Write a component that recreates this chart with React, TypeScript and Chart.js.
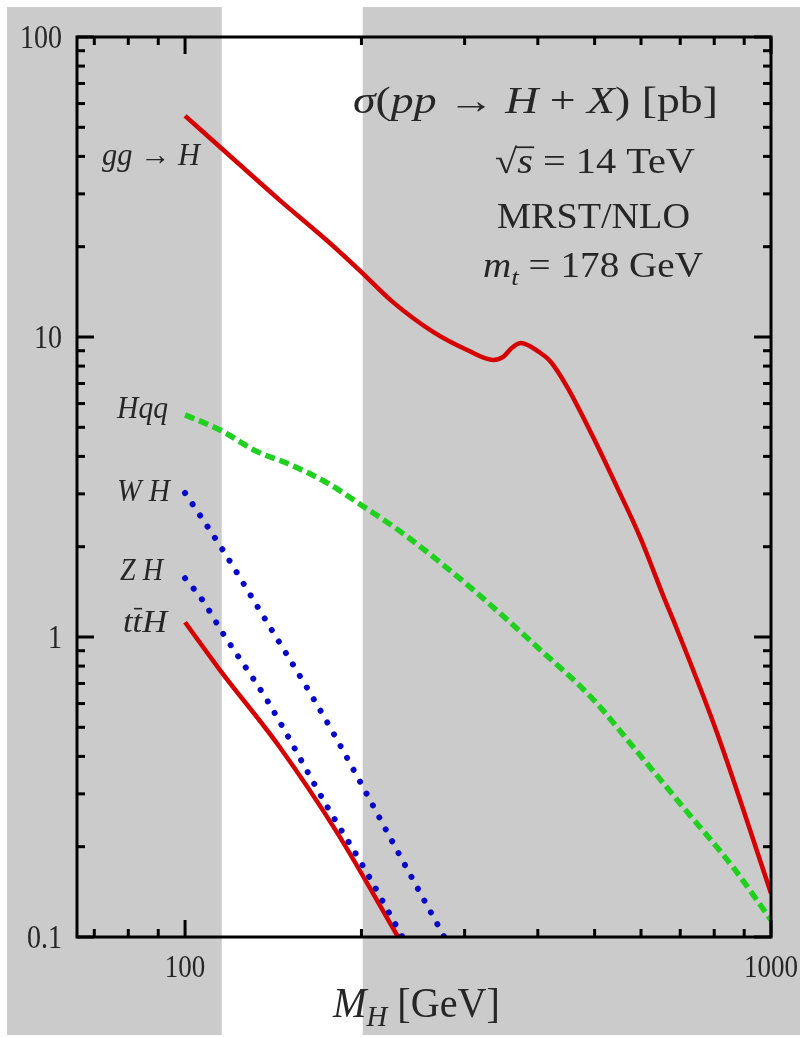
import React, { useEffect, useRef } from "react";
import { Chart, registerables } from "chart.js";

Chart.register(...registerables);

// ---------------- data (M_H in GeV, sigma in pb) ----------------
const GGH_MASS = [100, 114.7, 145, 177, 201, 224, 265, 303, 336, 349, 361, 374, 403, 420, 449, 497, 546, 598, 659, 681, 809, 1000];
const GGH_XSEC = [54.6, 43.0, 28.6, 20.5, 16.3, 13.3, 10.4, 9.05, 8.38, 8.58, 9.19, 9.55, 8.88, 8.3, 6.81, 4.64, 3.16, 2.15, 1.33, 1.14, 0.479, 0.14];

const HQQ_MASS = [100, 114.7, 133, 149, 175, 200, 235, 306, 399, 497, 582, 708, 861, 1000];
const HQQ_XSEC = [5.5, 4.9, 4.14, 3.8, 3.26, 2.75, 2.22, 1.47, 0.926, 0.62, 0.43, 0.271, 0.171, 0.114];

const WH_MASS = [100, 116, 133, 165, 179, 199, 235, 277];
const WH_XSEC = [3.02, 1.95, 1.26, 0.631, 0.479, 0.329, 0.18, 0.1];

const ZH_MASS = [100, 107, 116, 138, 175, 200, 235];
const ZH_XSEC = [1.57, 1.33, 1.03, 0.616, 0.271, 0.176, 0.1];

const TTH_MASS = [100, 114.7, 145, 182, 231];
const TTH_XSEC = [1.12, 0.776, 0.43, 0.222, 0.1];

// ---------------- axes ----------------
const X_MIN = 65.4;
const X_MAX = 1000;
const Y_MIN = 0.1;
const Y_MAX = 100;
const X_MAJOR_TICKS = [100, 1000];
const X_MINOR_TICKS = [70, 80, 90, 200, 300, 400, 500, 600, 700, 800, 900];
const X_TICK_LABELS = ["100", "1000"];
const Y_MAJOR_TICKS = [0.1, 1, 10, 100];
const Y_TICK_LABELS = ["0.1", "1", "10", "100"];
const Y_MINOR_MULT = [2, 3, 4, 5, 6, 7, 8, 9];

// shaded-out band edges (white region), in GeV
const BAND = [115.5, 201];

// ---------------- text ----------------
type Run = { t: string; it?: boolean; sub?: boolean; bar?: boolean };

const TITLE_RUNS: Run[] = [
  { t: "σ", it: true }, { t: "(" }, { t: "pp", it: true }, { t: " → " },
  { t: "H", it: true }, { t: " + " }, { t: "X", it: true }, { t: ")" }, { t: " [pb]" },
];
const SQRTS_RUNS: Run[] = [{ t: "√" }, { t: "s", it: true, bar: true }, { t: " = 14 TeV" }];
const PDF_RUNS: Run[] = [{ t: "MRST/NLO" }];
const MTOP_RUNS: Run[] = [{ t: "m", it: true }, { t: "t", it: true, sub: true }, { t: " = 178 GeV" }];
const AXIS_TITLE_RUNS: Run[] = [{ t: "M", it: true }, { t: "H", it: true, sub: true }, { t: " [GeV]" }];
const LABEL_GGH: Run[] = [{ t: "gg", it: true }, { t: " → " }, { t: "H", it: true }];
const LABEL_HQQ: Run[] = [{ t: "Hqq", it: true }];
const LABEL_WH: Run[] = [{ t: "W H", it: true }];
const LABEL_ZH: Run[] = [{ t: "Z H", it: true }];
const LABEL_TTH: Run[] = [{ t: "t", it: true }, { t: "t", it: true, bar: true }, { t: "H", it: true }];

const SERIF = '"Liberation Serif", "Times New Roman", serif';
const TEXT_COLOR = "#262626";
const VSTRETCH = 1.2;

function fontFor(r: Run, size: number) {
  const s = r.sub ? Math.round(size * 0.7) : size;
  return `${r.it ? "italic " : ""}${s}px ${SERIF}`;
}

function drawRuns(ctx: CanvasRenderingContext2D, runs: Run[], size: number, x0: number, x1: number, baseline: number) {
  ctx.save();
  let W = 0;
  const ws = runs.map((r) => {
    ctx.font = fontFor(r, size);
    const w = ctx.measureText(r.t).width;
    W += w;
    return w;
  });
  const sx = (x1 - x0) / W;
  ctx.translate(x0, baseline);
  ctx.scale(sx, VSTRETCH);
  ctx.fillStyle = TEXT_COLOR;
  ctx.strokeStyle = TEXT_COLOR;
  ctx.textBaseline = "alphabetic";
  ctx.textAlign = "left";
  let cx = 0;
  runs.forEach((r, i) => {
    ctx.font = fontFor(r, size);
    ctx.fillText(r.t, cx, r.sub ? size * 0.22 : 0);
    if (r.bar) {
      ctx.lineWidth = size * 0.05;
      ctx.beginPath();
      const yb = r.t === "s" ? -size * 0.74 : -size * 0.72;
      ctx.moveTo(cx + (r.t === "s" ? -1 : ws[i] * 0.15), yb);
      ctx.lineTo(cx + ws[i] + (r.t === "s" ? 1 : 0), yb);
      ctx.stroke();
    }
    cx += ws[i];
  });
  ctx.restore();
}

function drawLabel(ctx: CanvasRenderingContext2D, text: string, size: number, x: number, baseline: number, align: CanvasTextAlign) {
  ctx.save();
  ctx.translate(x, baseline);
  ctx.scale(1, VSTRETCH);
  ctx.font = `${size}px ${SERIF}`;
  ctx.fillStyle = TEXT_COLOR;
  ctx.textAlign = align;
  ctx.textBaseline = "alphabetic";
  ctx.fillText(text, 0, 0);
  ctx.restore();
}

const decorPlugin = {
  id: "decor",
  beforeDraw(chart: any) {
    const ctx: CanvasRenderingContext2D = chart.ctx;
    const W = chart.width;
    const H = chart.height;
    const xs = chart.scales.x;
    ctx.save();
    ctx.fillStyle = "#ffffff";
    ctx.fillRect(0, 0, W, H);
    ctx.fillStyle = "#cbcbcb";
    ctx.fillRect(7, 7, W - 7, H - 9);
    const b0 = xs.getPixelForValue(BAND[0]);
    const b1 = xs.getPixelForValue(BAND[1]);
    ctx.fillStyle = "#ffffff";
    ctx.fillRect(b0, 0, b1 - b0, H);
    ctx.restore();
  },
  afterDraw(chart: any) {
    const ctx: CanvasRenderingContext2D = chart.ctx;
    const { left, right, top, bottom } = chart.chartArea;
    const xs = chart.scales.x;
    const ys = chart.scales.y;
    ctx.save();
    ctx.strokeStyle = "#000000";
    ctx.lineWidth = 3;
    ctx.lineCap = "butt";
    const tick = (x1: number, y1: number, x2: number, y2: number) => {
      ctx.beginPath();
      ctx.moveTo(x1, y1);
      ctx.lineTo(x2, y2);
      ctx.stroke();
    };
    const MAJ = 17;
    const MIN = 8;
    X_MAJOR_TICKS.forEach((v) => {
      const px = xs.getPixelForValue(v);
      tick(px, bottom, px, bottom - MAJ);
      tick(px, top, px, top + MAJ);
    });
    X_MINOR_TICKS.forEach((v) => {
      const px = xs.getPixelForValue(v);
      tick(px, bottom, px, bottom - MIN);
      tick(px, top, px, top + MIN);
    });
    Y_MAJOR_TICKS.forEach((v) => {
      const py = ys.getPixelForValue(v);
      tick(left, py, left + MAJ, py);
      tick(right, py, right - MAJ, py);
    });
    Y_MAJOR_TICKS.slice(0, -1).forEach((dec) => {
      Y_MINOR_MULT.forEach((m) => {
        const py = ys.getPixelForValue(dec * m);
        tick(left, py, left + MIN, py);
        tick(right, py, right - MIN, py);
      });
    });
    ctx.strokeRect(left, top, right - left, bottom - top);
    ctx.restore();

    Y_MAJOR_TICKS.forEach((v, i) => {
      drawLabel(ctx, Y_TICK_LABELS[i], 28, left - 15, ys.getPixelForValue(v) + 11, "right");
    });
    X_MAJOR_TICKS.forEach((v, i) => {
      drawLabel(ctx, X_TICK_LABELS[i], 27, xs.getPixelForValue(v), bottom + 40, "center");
    });

    drawRuns(ctx, TITLE_RUNS, 31, 353, 718, 113);
    drawRuns(ctx, SQRTS_RUNS, 29, 495, 695, 173);
    drawRuns(ctx, PDF_RUNS, 29, 497, 690, 228);
    drawRuns(ctx, MTOP_RUNS, 29, 483, 703, 277);
    drawRuns(ctx, AXIS_TITLE_RUNS, 35, 333, 500, 1017);
    drawRuns(ctx, LABEL_GGH, 26, 102, 200, 165);
    drawRuns(ctx, LABEL_HQQ, 27, 117, 168, 418);
    drawRuns(ctx, LABEL_WH, 27, 117, 170, 501);
    drawRuns(ctx, LABEL_ZH, 27, 120, 163, 580);
    drawRuns(ctx, LABEL_TTH, 27, 123, 167, 632);
  },
};

const pts = (xs: number[], ys: number[]) => xs.map((x, i) => ({ x, y: ys[i] }));

export default function App() {
  const ref = useRef<HTMLCanvasElement | null>(null);
  useEffect(() => {
    if (!ref.current) return;
    const RED = "#d60000";
    const GREEN = "#1fd01f";
    const BLUE = "#0808c8";
    const common = { pointRadius: 0, fill: false, cubicInterpolationMode: "monotone" as const };
    const chart = new Chart(ref.current, {
      type: "line",
      data: {
        datasets: [
          { ...common, label: "gg → H", data: pts(GGH_MASS, GGH_XSEC), borderColor: RED, borderWidth: 4.5 },
          { ...common, label: "Hqq", data: pts(HQQ_MASS, HQQ_XSEC), borderColor: GREEN, borderWidth: 5.5, borderDash: [10, 5] },
          { ...common, label: "WH", data: pts(WH_MASS, WH_XSEC), borderColor: BLUE, borderWidth: 6, borderDash: [0.01, 13.5], borderCapStyle: "round" },
          { ...common, label: "ZH", data: pts(ZH_MASS, ZH_XSEC), borderColor: BLUE, borderWidth: 6, borderDash: [0.01, 13.5], borderCapStyle: "round" },
          { ...common, label: "ttH", data: pts(TTH_MASS, TTH_XSEC), borderColor: RED, borderWidth: 4.5 },
        ] as any,
      },
      options: {
        responsive: false,
        animation: false,
        devicePixelRatio: 1,
        layout: { padding: { left: 77, right: 29, top: 37, bottom: 100 } },
        plugins: { legend: { display: false }, tooltip: { enabled: false } },
        scales: {
          x: { type: "logarithmic", min: X_MIN, max: X_MAX, display: false },
          y: { type: "logarithmic", min: Y_MIN, max: Y_MAX, display: false },
        },
      },
      plugins: [decorPlugin],
    });
    return () => chart.destroy();
  }, []);
  return (
    <div style={{ position: "absolute", left: 0, top: 0, width: 800, height: 1037 }}>
      <canvas ref={ref} width={800} height={1037} style={{ display: "block", width: 800, height: 1037 }} />
    </div>
  );
}
